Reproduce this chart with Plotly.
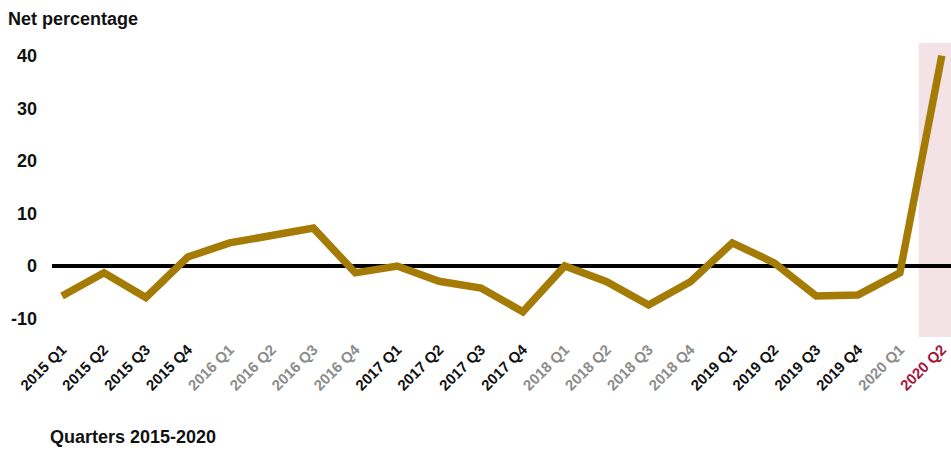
import plotly.graph_objects as go

quarters = ["2015 Q1", "2015 Q2", "2015 Q3", "2015 Q4",
            "2016 Q1", "2016 Q2", "2016 Q3", "2016 Q4",
            "2017 Q1", "2017 Q2", "2017 Q3", "2017 Q4",
            "2018 Q1", "2018 Q2", "2018 Q3", "2018 Q4",
            "2019 Q1", "2019 Q2", "2019 Q3", "2019 Q4",
            "2020 Q1", "2020 Q2"]
net_pct = [-5.7, -1.3, -6.0, 1.7,
           4.4, 5.7, 7.2, -1.3,
           0.0, -2.9, -4.2, -8.7,
           0.0, -3.0, -7.4, -3.0,
           4.4, 0.6, -5.7, -5.5,
           -1.3, 40.0]
label_colors = ["#111111"] * 4 + ["#8c8c8c"] * 4 + ["#111111"] * 4 + ["#8c8c8c"] * 4 + \
               ["#111111"] * 4 + ["#8c8c8c", "#a3173d"]
y_ticks = [-10, 0, 10, 20, 30, 40]

x_idx = list(range(len(quarters)))
tick_text = [f"<span style='color:{c}'><b>{q}</b></span>" for q, c in zip(quarters, label_colors)]

fig = go.Figure()
fig.add_shape(type="rect", xref="x", yref="paper", x0=20.45, x1=21.6, y0=0, y1=1,
              fillcolor="#f3e2e6", line_width=0, layer="below")
fig.add_shape(type="line", xref="paper", yref="y", x0=0, x1=1, y0=0, y1=0,
              line=dict(color="black", width=4), layer="below")
fig.add_trace(go.Scatter(x=x_idx, y=net_pct, mode="lines",
                         line=dict(color="#a47b05", width=7.5), hoverinfo="skip"))

fig.update_layout(
    width=951, height=450,
    margin=dict(l=52, r=0, t=43, b=113),
    plot_bgcolor="white", paper_bgcolor="white",
    showlegend=False,
    font=dict(family="Liberation Sans, Arial, sans-serif", color="#111111"),
    xaxis=dict(range=[-0.24, 21.22], tickmode="array", tickvals=x_idx, ticktext=tick_text,
               tickangle=-45, showgrid=False, zeroline=False, showline=False,
               tickfont=dict(size=15), ticks="", automargin=False),
    yaxis=dict(range=[-13.5, 42.4], tickmode="array", tickvals=y_ticks,
               ticktext=[f"<b>{v}</b>" for v in y_ticks],
               showgrid=False, zeroline=False, showline=False,
               tickfont=dict(size=18), ticklabelstandoff=14, automargin=False),
    annotations=[
        dict(text="<b>Net percentage</b>", xref="paper", yref="paper", x=-52/899, y=1,
             xanchor="left", yanchor="bottom", yshift=12, xshift=6, showarrow=False,
             font=dict(size=18, color="#111111")),
        dict(text="<b>Quarters 2015-2020</b>", xref="paper", yref="paper", x=0, y=0,
             xanchor="left", yanchor="top", yshift=-88, xshift=-4, showarrow=False,
             font=dict(size=18, color="#111111")),
    ],
)
fig.write_html("out.html", config={"displayModeBar": False},
               post_script="document.body.style.margin='0';document.body.style.overflow='hidden';")
